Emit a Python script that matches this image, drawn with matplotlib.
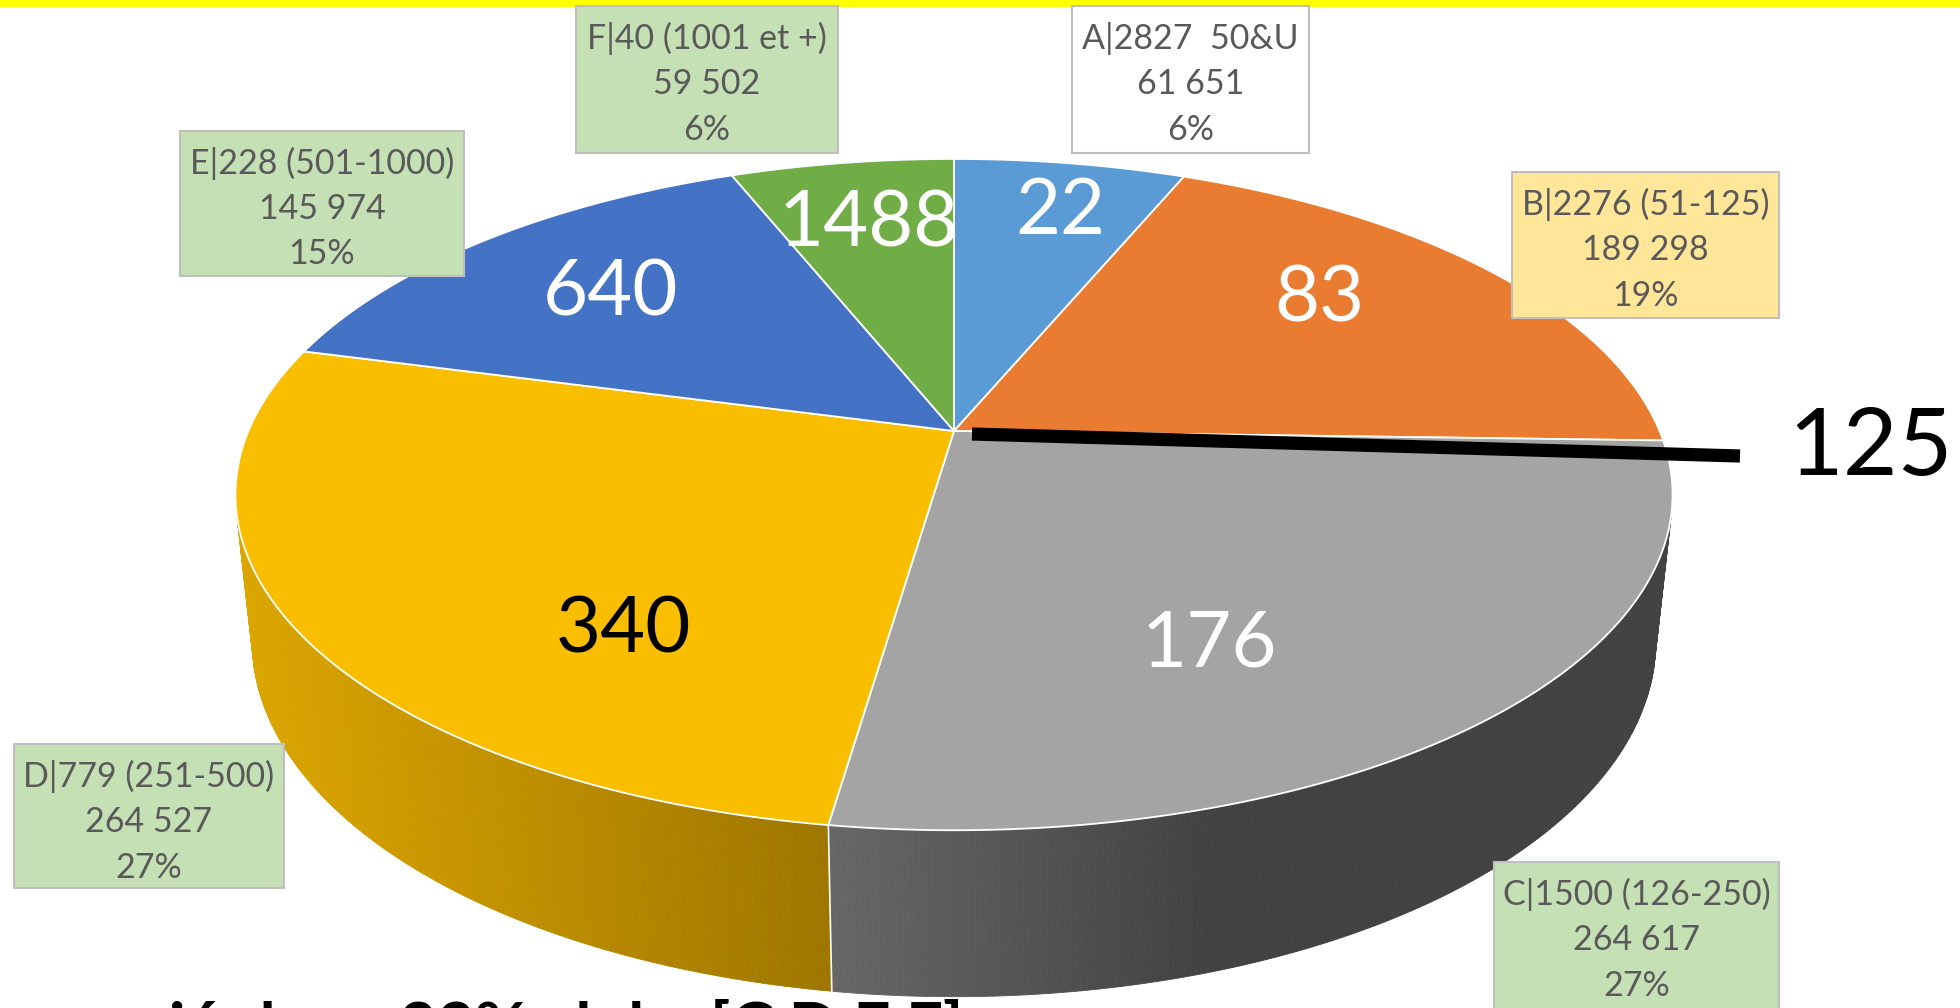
import numpy as np
import matplotlib.pyplot as plt
from matplotlib.patches import Polygon, Rectangle
from matplotlib.colors import to_rgb

plt.rcParams['font.family'] = ['Lato', 'DejaVu Sans']

# --- data ---
categories = ['A|2827  50&U', 'B|2276 (51-125)', 'C|1500 (126-250)',
              'D|779 (251-500)', 'E|228 (501-1000)', 'F|40 (1001 et +)']
players = [61651, 189298, 264617, 264527, 145974, 59502]
slice_numbers = ['22', '83', '176', '340', '640', '1488']
threshold_label = '125'
footer_text = 'enció dona 33% clubs [C,D,E,F]'

# --- styles ---
top_colors = ['#5B9BD5', '#EA7C31', '#A4A4A4', '#F9BE00', '#4472C4', '#70AD47']
side_light = ['#3F6E9A', '#A8561F', '#676767', '#DCA600', '#2F5192', '#4E7A31']
side_dark = ['#2E5275', '#7D3F15', '#424242', '#9E7600', '#223B6B', '#3A5B24']
side_gain = [1.0, 1.0, 2.2, 1.0, 1.0, 1.0]
number_colors = ['white', 'white', 'white', 'black', 'white', 'white']
box_fill = ['white', '#FFE699', '#C5E0B4', '#C5E0B4', '#C5E0B4', '#C5E0B4']

# layout in pixel coordinates
number_xy = [(1060, 212), (1319, 300), (1209, 645), (623, 631), (610, 294), (869, 225)]
boxes = [(1072, 6, 1309, 153), (1512, 172, 1779, 318), (1494, 862, 1779, 1012),
         (14, 744, 284, 888), (180, 131, 464, 276), (576, 6, 838, 153)]

# perspective camera for the 3-D pie
CX, CY = 954, 431
FOC, DIST = 3309.0, 4.69
PHI = np.radians(27.3)
HEIGHT = 0.236


def project(theta, z=0.0):
    x = np.sin(theta)
    y = np.cos(theta)
    depth = DIST + y * np.cos(PHI) - z * np.sin(PHI)
    X = CX + FOC * x / depth
    Y = CY - FOC * (y * np.sin(PHI) + z * np.cos(PHI)) / depth
    return X, Y


fig = plt.figure(figsize=(19.6, 10.08), dpi=100)
ax = fig.add_axes([0, 0, 1, 1])
ax.set_xlim(0, 1960)
ax.set_ylim(1008, 0)
ax.axis('off')

# yellow band on top
ax.add_patch(Rectangle((0, 0), 1960, 7, color='#FFFF00', lw=0))

total = sum(players)
fracs = np.array(players) / total
bounds = np.concatenate([[0], np.cumsum(fracs)]) * 2 * np.pi
vis_limit = -1.0 / (DIST * np.cos(PHI))

# side walls
for i in range(len(players)):
    t = np.linspace(bounds[i], bounds[i + 1], 240)
    vis = np.cos(t) < vis_limit
    if vis.sum() < 2:
        continue
    t = t[vis]
    xt, yt = project(t)
    xb, yb = project(t, -HEIGHT)
    x0, x1 = xt.min(), xt.max()
    c0, c1 = np.array(to_rgb(side_light[i])), np.array(to_rgb(side_dark[i]))
    for j in range(len(t) - 1):
        f = np.clip(((xt[j] + xt[j + 1]) / 2 - x0) / (x1 - x0) * side_gain[i], 0, 1)
        col = c0 + (c1 - c0) * f
        quad = [(xt[j], yt[j]), (xt[j + 1], yt[j + 1]),
                (xb[j + 1], yb[j + 1]), (xb[j], yb[j])]
        ax.add_patch(Polygon(quad, closed=True, facecolor=col, edgecolor=col, lw=0.6))

# seams on the side wall
for b in bounds[1:-1]:
    if np.cos(b) < vis_limit:
        xs, ys = project(np.array([b, b]), np.array([0.0, -HEIGHT]))
        ax.plot(xs, ys, color='white', lw=1.2)

# top face
for i in range(len(players)):
    t = np.linspace(bounds[i], bounds[i + 1], 200)
    xt, yt = project(t)
    pts = [(CX, CY)] + list(zip(xt, yt))
    ax.add_patch(Polygon(pts, closed=True, facecolor=top_colors[i],
                         edgecolor='white', lw=1.3, joinstyle='round'))

# numbers on the slices
for i, s in enumerate(slice_numbers):
    ax.text(number_xy[i][0], number_xy[i][1], s, fontsize=56, color=number_colors[i],
            ha='center', va='center')

# thick marker line with 125
ax.plot([972, 1740], [434, 456], color='black', lw=9.5, solid_capstyle='butt')
ax.text(1788, 475, threshold_label, fontsize=68, color='black', ha='left', va='baseline')

# label boxes
for i, cat in enumerate(categories):
    x0, y0, x1, y1 = boxes[i]
    ax.add_patch(Rectangle((x0, y0), x1 - x0, y1 - y0, facecolor=box_fill[i],
                           edgecolor='#BFBFBF', lw=1.5))
    xc = (x0 + x1) / 2
    yc = y0 + 78
    lines = [cat, f'{players[i]:,}'.replace(',', ' '), f'{round(fracs[i] * 100)}%']
    for k, line in enumerate(lines):
        ax.text(xc, yc + (k - 1) * 45.5, line, fontsize=24.5, color='#595959',
                ha='center', va='center')

# cut-off footer text
ax.text(963, 1049, footer_text, fontsize=47, fontweight='bold', color='black',
        ha='right', va='baseline')

fig.savefig('out.png', dpi=100)
